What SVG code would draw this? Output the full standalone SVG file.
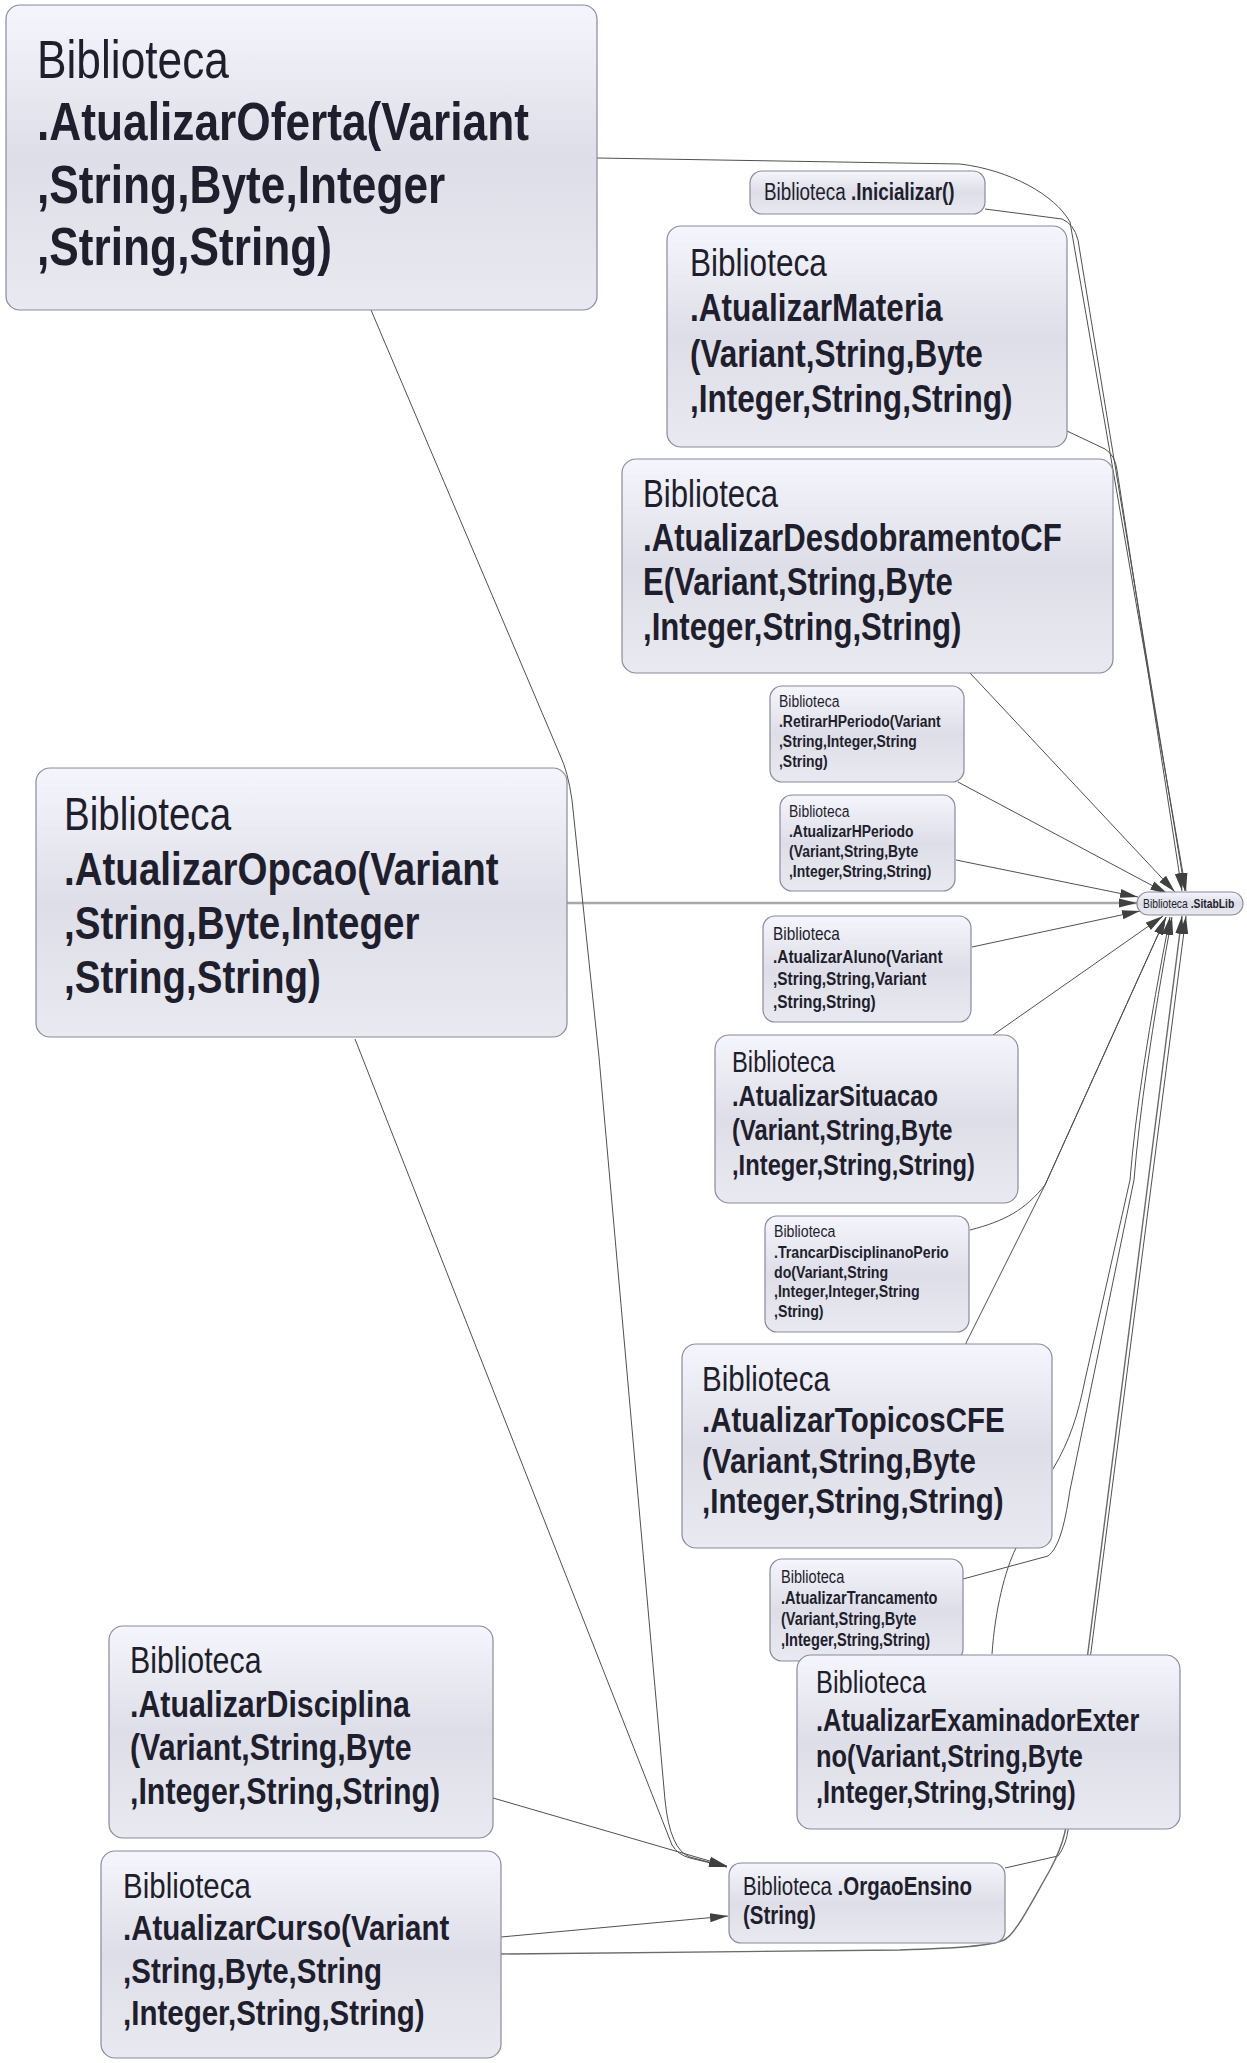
<svg xmlns="http://www.w3.org/2000/svg" width="1247" height="2063" viewBox="0 0 1247 2063">
<style>
.n rect{fill:url(#g);stroke:#8a8a9c;stroke-width:1.2}
.t{font-family:"Liberation Sans",Arial,sans-serif;fill:#1e1e2c}
.b{font-weight:bold}
.e{fill:none;stroke:#505050;stroke-width:1}
.e2{fill:none;stroke:#a8a8a8;stroke-width:2.4}
.e3{fill:none;stroke:#6a6a6a;stroke-width:1.4}
</style>
<defs>
<linearGradient id="g" x1="0" y1="0" x2="0" y2="1">
<stop offset="0" stop-color="#f5f5fd"/>
<stop offset="0.5" stop-color="#dedee8"/>
<stop offset="1" stop-color="#e9e9f1"/>
</linearGradient>
<marker id="a" markerUnits="userSpaceOnUse" markerWidth="18" markerHeight="10" refX="18" refY="5" orient="auto">
<path d="M0,0.5 L18,5 L0,9.5 z" fill="#404040"/>
</marker>
</defs>
<rect width="1247" height="2063" fill="#ffffff"/>
<g id="connectors">
<path class="e" marker-end="url(#a)" d="M597,158 L960,164 C1010,170 1055,195 1070,222 L1186,891"/>
<path class="e" marker-end="url(#a)" d="M985,209 L1062,219 Q1074,224 1078,240 L1185,891"/>
<path class="e" marker-end="url(#a)" d="M1067,431 L1105,449 Q1115,455 1117,470 L1182,891"/>
<path class="e" marker-end="url(#a)" d="M970,673 L1175,892"/>
<path class="e" marker-end="url(#a)" d="M958,782 L1168,894"/>
<path class="e" marker-end="url(#a)" d="M956,860 L1138,897"/>
<path class="e2" marker-end="url(#a)" d="M567,903 L1137,903"/>
<path class="e" marker-end="url(#a)" d="M972,947 L1140,911"/>
<path class="e" marker-end="url(#a)" d="M993,1035 L1163,916"/>
<path class="e" marker-end="url(#a)" d="M970,1230 C1005,1221 1025,1210 1045,1185 L1166,917"/>
<path class="e" marker-end="url(#a)" d="M992,1654 C995,1610 1005,1570 1016,1548 L995,1440 L966,1343 L1045,1185 L1166,917"/>
<path class="e" marker-end="url(#a)" d="M1053,1469 C1070,1440 1078,1415 1085,1380 L1130,1180 Q1138,1080 1170,917"/>
<path class="e" marker-end="url(#a)" d="M963,1579 L1048,1556 C1058,1548 1064,1530 1070,1490 L1134,1180 Q1142,1080 1172,917"/>
<path class="e" marker-end="url(#a)" d="M1005,1868 L1058,1856 C1064,1848 1067,1838 1068,1830 L1186,916"/>
<path class="e3" marker-end="url(#a)" d="M501,1954 L900,1950 C960,1948 990,1946 1004,1940 C1015,1935 1030,1905 1050,1870 C1058,1855 1062,1845 1065,1832 L1182,916"/>
<path class="e" marker-end="url(#a)" d="M371,310 L560,755 Q568,772 572,800 L599,1057 L665,1800 Q670,1850 690,1857 L727,1867"/>
<path class="e" marker-end="url(#a)" d="M355,1039 L672,1845 Q678,1855 690,1858 L727,1867"/>
<path class="e" marker-end="url(#a)" d="M493,1798 L727,1866"/>
<path class="e" marker-end="url(#a)" d="M501,1937 L728,1916"/>
</g>
<g id="n-oferta" class="n">
<rect x="6" y="5" width="591" height="305" rx="14"/>
<text class="t" font-size="54" transform="translate(37 0) scale(0.82 1)"><tspan x="0" y="78">Biblioteca</tspan><tspan class="b" x="0" y="140">.AtualizarOferta(Variant</tspan><tspan class="b" x="0" y="203">,String,Byte,Integer</tspan><tspan class="b" x="0" y="265">,String,String)</tspan></text>
</g>
<g id="n-inicializar" class="n">
<rect x="750" y="171" width="235" height="43" rx="12"/>
<text class="t" font-size="23" transform="translate(764 0) scale(0.82 1)"><tspan x="0" y="200">Biblioteca <tspan class="b">.Inicializar()</tspan></tspan></text>
</g>
<g id="n-materia" class="n">
<rect x="667" y="226" width="400" height="221" rx="14"/>
<text class="t" font-size="38.5" transform="translate(690 0) scale(0.82 1)"><tspan x="0" y="276">Biblioteca</tspan><tspan class="b" x="0" y="321">.AtualizarMateria</tspan><tspan class="b" x="0" y="367">(Variant,String,Byte</tspan><tspan class="b" x="0" y="412">,Integer,String,String)</tspan></text>
</g>
<g id="n-desdobramento" class="n">
<rect x="622" y="459" width="491" height="214" rx="14"/>
<text class="t" font-size="38" transform="translate(643 0) scale(0.82 1)"><tspan x="0" y="507">Biblioteca</tspan><tspan class="b" x="0" y="551">.AtualizarDesdobramentoCF</tspan><tspan class="b" x="0" y="595">E(Variant,String,Byte</tspan><tspan class="b" x="0" y="640">,Integer,String,String)</tspan></text>
</g>
<g id="n-retirar" class="n">
<rect x="770" y="686" width="194" height="96" rx="12"/>
<text class="t" font-size="17" transform="translate(779 0) scale(0.82 1)"><tspan x="0" y="707">Biblioteca</tspan><tspan class="b" x="0" y="727">.RetirarHPeriodo(Variant</tspan><tspan class="b" x="0" y="747">,String,Integer,String</tspan><tspan class="b" x="0" y="767">,String)</tspan></text>
</g>
<g id="n-hperiodo" class="n">
<rect x="780" y="795" width="175" height="96" rx="12"/>
<text class="t" font-size="17" transform="translate(789 0) scale(0.82 1)"><tspan x="0" y="817">Biblioteca</tspan><tspan class="b" x="0" y="837">.AtualizarHPeriodo</tspan><tspan class="b" x="0" y="857">(Variant,String,Byte</tspan><tspan class="b" x="0" y="877">,Integer,String,String)</tspan></text>
</g>
<g id="n-opcao" class="n">
<rect x="36" y="768" width="531" height="269" rx="14"/>
<text class="t" font-size="47" transform="translate(64 0) scale(0.82 1)"><tspan x="0" y="830">Biblioteca</tspan><tspan class="b" x="0" y="885">.AtualizarOpcao(Variant</tspan><tspan class="b" x="0" y="939">,String,Byte,Integer</tspan><tspan class="b" x="0" y="993">,String,String)</tspan></text>
</g>
<g id="n-sitablib" class="n">
<rect x="1137" y="892" width="106" height="23" rx="11.5"/>
<text class="t" font-size="12.6" transform="translate(1143 0) scale(0.82 1)"><tspan x="0" y="908">Biblioteca <tspan class="b">.SitabLib</tspan></tspan></text>
</g>
<g id="n-aluno" class="n">
<rect x="763" y="916" width="208" height="106" rx="12"/>
<text class="t" font-size="18.8" transform="translate(773 0) scale(0.82 1)"><tspan x="0" y="940">Biblioteca</tspan><tspan class="b" x="0" y="963">.AtualizarAluno(Variant</tspan><tspan class="b" x="0" y="985">,String,String,Variant</tspan><tspan class="b" x="0" y="1008">,String,String)</tspan></text>
</g>
<g id="n-situacao" class="n">
<rect x="715" y="1035" width="303" height="168" rx="14"/>
<text class="t" font-size="29" transform="translate(732 0) scale(0.82 1)"><tspan x="0" y="1072">Biblioteca</tspan><tspan class="b" x="0" y="1106">.AtualizarSituacao</tspan><tspan class="b" x="0" y="1140">(Variant,String,Byte</tspan><tspan class="b" x="0" y="1175">,Integer,String,String)</tspan></text>
</g>
<g id="n-trancar" class="n">
<rect x="765" y="1216" width="204" height="116" rx="12"/>
<text class="t" font-size="17.3" transform="translate(774 0) scale(0.82 1)"><tspan x="0" y="1237">Biblioteca</tspan><tspan class="b" x="0" y="1258">.TrancarDisciplinanoPerio</tspan><tspan class="b" x="0" y="1278">do(Variant,String</tspan><tspan class="b" x="0" y="1297">,Integer,Integer,String</tspan><tspan class="b" x="0" y="1317">,String)</tspan></text>
</g>
<g id="n-topicos" class="n">
<rect x="682" y="1344" width="370" height="204" rx="14"/>
<text class="t" font-size="36" transform="translate(702 0) scale(0.82 1)"><tspan x="0" y="1391">Biblioteca</tspan><tspan class="b" x="0" y="1432">.AtualizarTopicosCFE</tspan><tspan class="b" x="0" y="1473">(Variant,String,Byte</tspan><tspan class="b" x="0" y="1513">,Integer,String,String)</tspan></text>
</g>
<g id="n-trancamento" class="n">
<rect x="770" y="1559" width="193" height="102" rx="12"/>
<text class="t" font-size="17.8" transform="translate(781 0) scale(0.82 1)"><tspan x="0" y="1583">Biblioteca</tspan><tspan class="b" x="0" y="1604">.AtualizarTrancamento</tspan><tspan class="b" x="0" y="1625">(Variant,String,Byte</tspan><tspan class="b" x="0" y="1646">,Integer,String,String)</tspan></text>
</g>
<g id="n-examinador" class="n">
<rect x="797" y="1655" width="383" height="174" rx="14"/>
<text class="t" font-size="31" transform="translate(816 0) scale(0.82 1)"><tspan x="0" y="1693">Biblioteca</tspan><tspan class="b" x="0" y="1731">.AtualizarExaminadorExter</tspan><tspan class="b" x="0" y="1767">no(Variant,String,Byte</tspan><tspan class="b" x="0" y="1803">,Integer,String,String)</tspan></text>
</g>
<g id="n-disciplina" class="n">
<rect x="109" y="1626" width="384" height="212" rx="14"/>
<text class="t" font-size="37" transform="translate(130 0) scale(0.82 1)"><tspan x="0" y="1673">Biblioteca</tspan><tspan class="b" x="0" y="1717">.AtualizarDisciplina</tspan><tspan class="b" x="0" y="1760">(Variant,String,Byte</tspan><tspan class="b" x="0" y="1804">,Integer,String,String)</tspan></text>
</g>
<g id="n-curso" class="n">
<rect x="101" y="1851" width="400" height="207" rx="14"/>
<text class="t" font-size="36" transform="translate(123 0) scale(0.82 1)"><tspan x="0" y="1898">Biblioteca</tspan><tspan class="b" x="0" y="1940">.AtualizarCurso(Variant</tspan><tspan class="b" x="0" y="1983">,String,Byte,String</tspan><tspan class="b" x="0" y="2025">,Integer,String,String)</tspan></text>
</g>
<g id="n-orgaoensino" class="n">
<rect x="729" y="1863" width="276" height="80" rx="12"/>
<text class="t" font-size="25" transform="translate(743 0) scale(0.82 1)"><tspan x="0" y="1895">Biblioteca <tspan class="b">.OrgaoEnsino</tspan></tspan><tspan class="b" x="0" y="1924">(String)</tspan></text>
</g>
</svg>
